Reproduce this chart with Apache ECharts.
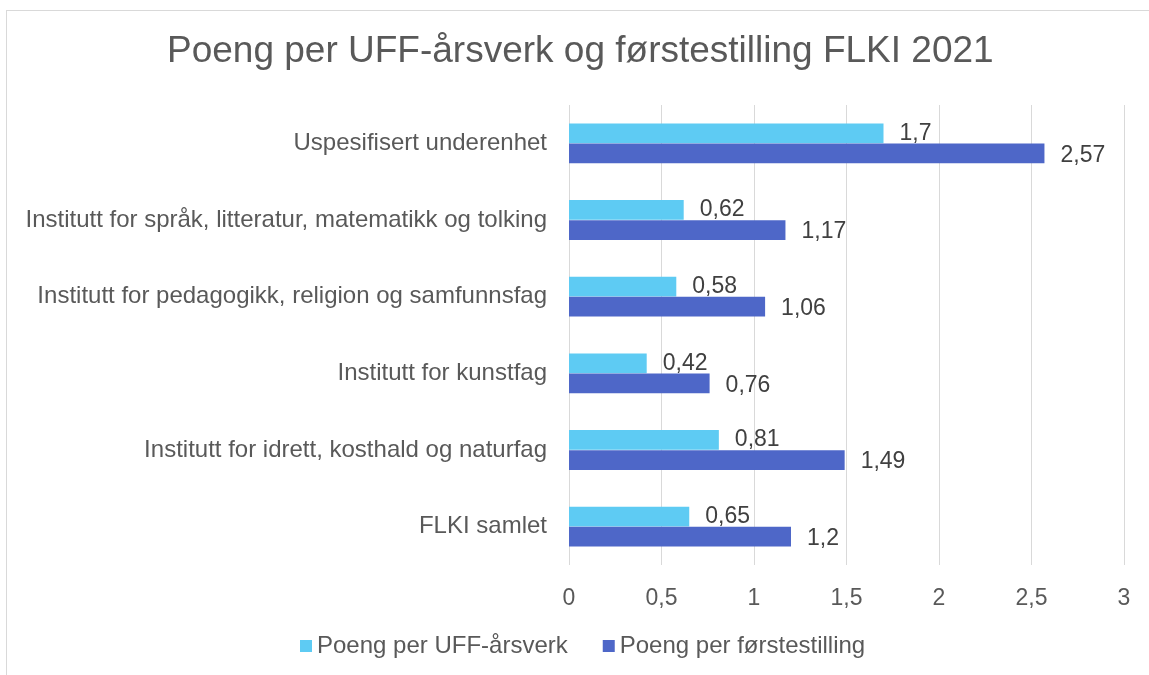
<!DOCTYPE html>
<html>
<head>
<meta charset="utf-8">
<script src="https://cdn.jsdelivr.net/npm/echarts@6/dist/echarts.min.js"></script>
<style>
  html, body { margin: 0; padding: 0; background: #fff; }
  #frame { position: absolute; left: 6px; top: 10px; width: 1160px; height: 700px; border: 1px solid #d9d9d9; box-sizing: border-box; }
  #chart { position: absolute; left: 0; top: 0; width: 1149px; height: 675px; }
</style>
</head>
<body>
<div id="frame"></div>
<div id="chart"></div>
<script>
// categories bottom -> top, like the picture reads upwards
var categories = [
  'FLKI samlet',
  'Institutt for idrett, kosthald og naturfag',
  'Institutt for kunstfag',
  'Institutt for pedagogikk, religion og samfunnsfag',
  'Institutt for språk, litteratur, matematikk og tolking',
  'Uspesifisert underenhet'
];
var perUFF = [0.65, 0.81, 0.42, 0.58, 0.62, 1.7];
var perForste = [1.2, 1.49, 0.76, 1.06, 1.17, 2.57];
var xTicks = [0, 0.5, 1, 1.5, 2, 2.5, 3];

function comma(v) { return String(v).replace('.', ','); }

var chart = echarts.init(document.getElementById('chart'));
var font = 'Liberation Sans, Arial, sans-serif';

chart.setOption({
  animation: false,
  textStyle: { fontFamily: font },
  title: {
    text: 'Poeng per UFF-årsverk og førstestilling FLKI 2021',
    left: 167,
    top: 33,
    padding: 0,
    textStyle: { fontSize: 37, fontWeight: 'normal', color: '#595959', fontFamily: font }
  },
  legend: {
    bottom: 17,
    left: 300,
    padding: 0,
    itemWidth: 12,
    itemHeight: 12,
    itemGap: 35,
    icon: 'rect',
    textStyle: { fontSize: 24, color: '#595959', fontFamily: font },
    data: ['Poeng per UFF-årsverk', 'Poeng per førstestilling']
  },
  grid: { left: 569, right: 25, top: 105, bottom: 110, containLabel: false },
  xAxis: {
    type: 'value',
    min: xTicks[0],
    max: xTicks[xTicks.length - 1],
    interval: 0.5,
    axisLine: { show: false },
    axisTick: { show: false },
    axisLabel: { fontSize: 23, color: '#595959', margin: 22, formatter: comma },
    splitLine: { lineStyle: { color: '#d9d9d9', width: 1 } }
  },
  yAxis: {
    type: 'category',
    data: categories,
    axisLine: { show: false },
    axisTick: { show: false },
    axisLabel: { fontSize: 24, color: '#595959', margin: 22 }
  },
  series: [
    {
      name: 'Poeng per UFF-årsverk',
      type: 'bar',
      data: perUFF,
      itemStyle: { color: '#5ecbf3' },
      barGap: '2%',
      barCategoryGap: '48%',
      label: { show: true, position: 'right', distance: 16, fontSize: 23, color: '#404040', formatter: function (p) { return comma(p.value); } }
    },
    {
      name: 'Poeng per førstestilling',
      type: 'bar',
      data: perForste,
      itemStyle: { color: '#4e67c8' },
      barGap: '2%',
      barCategoryGap: '48%',
      label: { show: true, position: 'right', distance: 16, offset: [0, 2], fontSize: 23, color: '#404040', formatter: function (p) { return comma(p.value); } }
    }
  ]
});
</script>
</body>
</html>
